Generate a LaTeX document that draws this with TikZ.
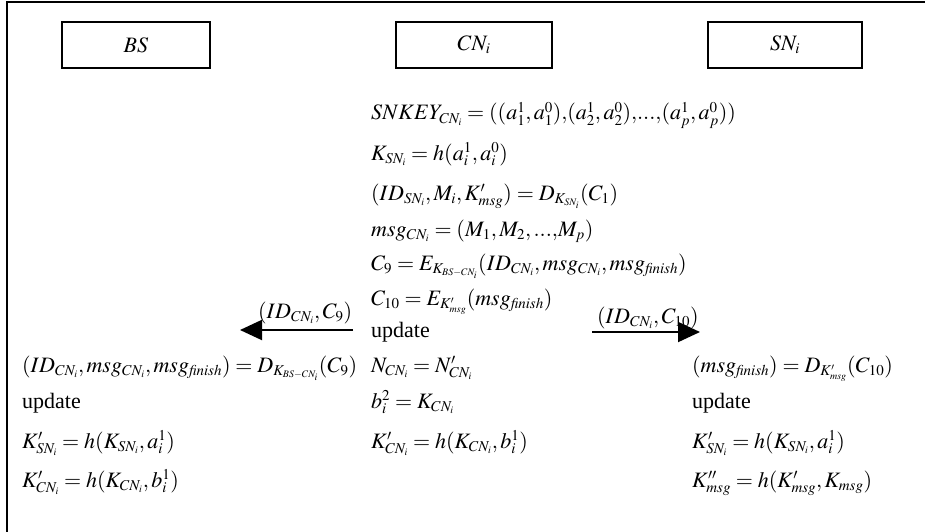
\documentclass[tikz,border=0pt]{standalone}
\usepackage{mathptmx}
\usepackage{fontspec}
\setmainfont{Liberation Serif}
\usetikzlibrary{arrows.meta}
\DeclareMathSizes{22}{22}{15}{10}
\tikzset{
  party/.style={draw, line width=1.5pt, minimum width=150pt, minimum height=46pt, inner sep=0pt},
  eq/.style={anchor=base west, inner sep=0pt, font=\fontsize{22}{26}\selectfont},
  msgarrow/.style={line width=2pt, -{Triangle[length=22pt,width=20pt]}},
  frame/.style={line width=2.5pt, line cap=rect}
}
\begin{document}
\begin{tikzpicture}[x=1pt,y=-1pt]
\useasboundingbox (0,0) rectangle (925,532);
% outer frame (top and left)
\coordinate (fl) at (7,532);
\coordinate (ftl) at (7,2);
\coordinate (ftr) at (930,2);
\draw[frame] (fl) -- (ftl) -- (ftr);
% parties
\node[party, minimum width=148pt] (bs) at (136,45) {\fontsize{22}{26}\selectfont $BS$};
\node[party, minimum width=156pt] (cn) at (474,45) {\fontsize{22}{26}\selectfont $CN_i$};
\node[party, minimum width=154pt] (sn) at (785,45) {\fontsize{22}{26}\selectfont $SN_i$};
% CN column
\node[eq] (c1) at (371,120) {$SNKEY_{CN_i}=((a_1^1,a_1^0){,}(a_2^1,a_2^0){,}{.}{.}{.}{,}(a_p^1,a_p^0))$};
\node[eq] (c2) at (371,160) {$K_{SN_i}=h(a_i^1,a_i^0)$};
\node[eq] (c3) at (371,200) {$(ID_{SN_i},M_i,K'_{msg})=D_{K_{SN_i}}(C_1)$};
\node[eq] (c4) at (371,236) {$msg_{CN_i}=(M_1,M_2,{.}{.}{.}{,}M_p)$};
\node[eq] (c5) at (371,270) {$C_9=E_{K_{BS-CN_i}}(ID_{CN_i},msg_{CN_i},msg_{\mathit{finish}})$};
\node[eq] (c6) at (371,305) {$C_{10}=E_{K'_{msg}}(msg_{\mathit{finish}})$};
\node[eq] (c7) at (371,337) {update};
\node[eq] (c8) at (371,372) {$N_{CN_i}=N'_{CN_i}$};
\node[eq] (c9) at (371,408) {$b_i^2=K_{CN_i}$};
\node[eq] (c10) at (371,448) {$K'_{CN_i}=h(K_{CN_i},b_i^1)$};
% BS column
\node[eq] (l1) at (22,372) {$(ID_{CN_i},msg_{CN_i},msg_{\mathit{finish}})=D_{K_{BS-CN_i}}(C_9)$};
\node[eq] (l2) at (22,408) {update};
\node[eq] (l3) at (22,448) {$K'_{SN_i}=h(K_{SN_i},a_i^1)$};
\node[eq] (l4) at (22,487) {$K'_{CN_i}=h(K_{CN_i},b_i^1)$};
% SN column
\node[eq] (r1) at (692,372) {$(msg_{\mathit{finish}})=D_{K'_{msg}}(C_{10})$};
\node[eq] (r2) at (692,408) {update};
\node[eq] (r3) at (692,448) {$K'_{SN_i}=h(K_{SN_i},a_i^1)$};
\node[eq] (r4) at (692,487) {$K''_{msg}=h(K'_{msg},K_{msg})$};
% messages
\coordinate (la) at (353,330);
\coordinate (lb) at (240,330);
\draw[msgarrow] (la) -- (lb);
\node[eq] (lm) at (258,318) {$(ID_{CN_i},C_9)$};
\coordinate (ra) at (592,332);
\coordinate (rb) at (700,332);
\draw[msgarrow] (ra) -- (rb);
\node[eq] (rm) at (597,323) {$(ID_{CN_i},C_{10})$};
\end{tikzpicture}
\end{document}
